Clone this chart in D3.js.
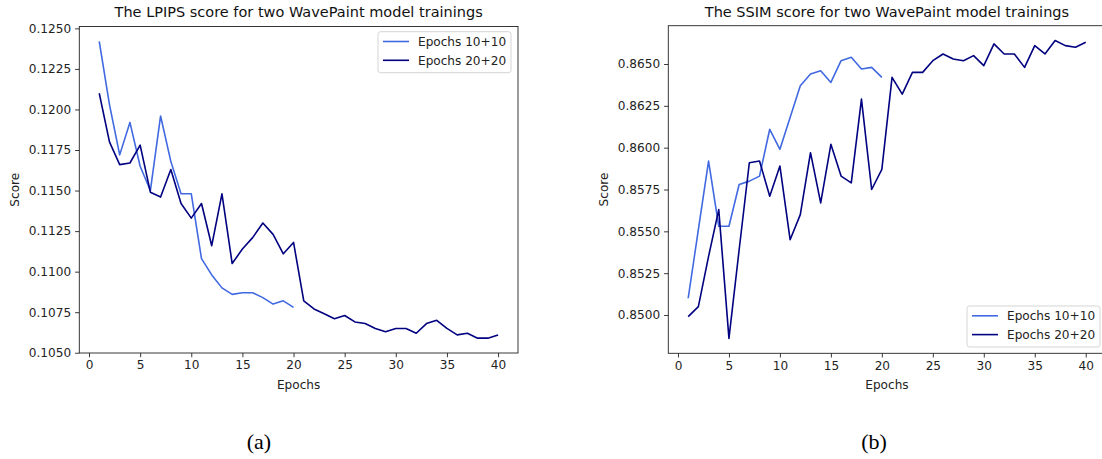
<!DOCTYPE html>
<html>
<head>
<meta charset="utf-8">
<script src="https://cdn.jsdelivr.net/npm/d3@7"></script>
<style>
  html, body { margin: 0; padding: 0; background: #fff; }
  svg { display: block; font-family: "DejaVu Sans", sans-serif; }
</style>
</head>
<body>
<svg id="chart"></svg>
<script>
// data
const epochs10 = d3.range(1, 21);
const epochs20 = d3.range(1, 41);

const lpips10 = [0.1242, 0.1203, 0.1172, 0.1192, 0.1165, 0.1150, 0.1196, 0.1168, 0.1148, 0.1148,
                 0.1108, 0.1098, 0.1090, 0.1086, 0.1087, 0.1087, 0.1084, 0.1080, 0.1082, 0.1078];
const lpips20 = [0.1210, 0.1180, 0.1166, 0.1167, 0.1178, 0.1149, 0.1146, 0.1163, 0.1142, 0.1133,
                 0.1142, 0.1116, 0.1148, 0.1105, 0.1114, 0.1121, 0.1130, 0.1123, 0.1111, 0.1118,
                 0.1082, 0.1077, 0.1074, 0.1071, 0.1073, 0.1069, 0.1068, 0.1065, 0.1063, 0.1065,
                 0.1065, 0.1062, 0.1068, 0.1070, 0.1065, 0.1061, 0.1062, 0.1059, 0.1059, 0.1061];

const ssim10 = [0.8510, 0.8551, 0.8592, 0.8553, 0.8553, 0.8578, 0.8580, 0.8583, 0.8611, 0.8599,
                0.8618, 0.8637, 0.8644, 0.8646, 0.8639, 0.8652, 0.8654, 0.8647, 0.8648, 0.8642];
const ssim20 = [0.8499, 0.8505, 0.8535, 0.8563, 0.8486, 0.8539, 0.8591, 0.8592, 0.8571, 0.8589,
                0.8545, 0.8560, 0.8597, 0.8567, 0.8602, 0.8583, 0.8579, 0.8629, 0.8575, 0.8587,
                0.8642, 0.8632, 0.8645, 0.8645, 0.8652, 0.8656, 0.8653, 0.8652, 0.8655, 0.8649,
                0.8662, 0.8656, 0.8656, 0.8648, 0.8661, 0.8656, 0.8664, 0.8661, 0.8660, 0.8663];

const xTicks = [0, 5, 10, 15, 20, 25, 30, 35, 40];
const lpipsTicks = [0.1050, 0.1075, 0.1100, 0.1125, 0.1150, 0.1175, 0.1200, 0.1225, 0.1250];
const ssimTicks = [0.8500, 0.8525, 0.8550, 0.8575, 0.8600, 0.8625, 0.8650];

const seriesNames = ["Epochs 10+10", "Epochs 20+20"];
const colors = ["#4169e1", "#000080"];

const ctx = {
  width: 1102,
  height: 459,
  fontSize: 12.1,
  titleSize: 14.5,
  panels: [
    { left: 79.3, right: 518, top: 26.5, bottom: 353,
      title: "The LPIPS score for two WavePaint model trainings",
      caption: "(a)", captionX: 259, legendX: 378, legendY: 31.7 },
    { left: 668.3, right: 1105.6, top: 25.7, bottom: 353.3,
      title: "The SSIM score for two WavePaint model trainings",
      caption: "(b)", captionX: 874, legendX: 967, legendY: 306 }
  ]
};

const svg = d3.select("#chart")
  .attr("width", ctx.width)
  .attr("height", ctx.height);

// matplotlib-style 5% padding around the data
function padded(values) {
  const lo = d3.min(values), hi = d3.max(values);
  const m = (hi - lo) * 0.05;
  return [lo - m, hi + m];
}

function drawPanel(p, short, long, yTicks) {
  const g = svg.append("g");

  const x = d3.scaleLinear()
    .domain(padded(epochs20))
    .range([p.left, p.right]);
  const y = d3.scaleLinear()
    .domain(padded(short.concat(long)))
    .range([p.bottom, p.top]);

  // axes
  g.append("g")
    .attr("transform", `translate(0,${p.bottom})`)
    .call(d3.axisBottom(x).tickValues(xTicks).tickSizeInner(4.2).tickSizeOuter(0).tickPadding(3.5))
    .call(a => a.select(".domain").remove());
  g.append("g")
    .attr("transform", `translate(${p.left},0)`)
    .call(d3.axisLeft(y).tickValues(yTicks).tickFormat(d3.format(".4f")).tickSizeInner(4.2).tickSizeOuter(0).tickPadding(4))
    .call(a => a.select(".domain").remove());
  g.selectAll(".tick text").attr("font-size", ctx.fontSize).attr("fill", "#222")
    .attr("font-family", "DejaVu Sans");
  g.selectAll(".tick line").attr("stroke", "#222").attr("stroke-width", 0.9);

  // lines
  const line = d3.line().x((d, i) => x(i + 1)).y(d => y(d));
  [short, long].forEach((vals, i) => {
    g.append("path")
      .datum(vals)
      .attr("fill", "none")
      .attr("stroke", colors[i])
      .attr("stroke-width", 1.6)
      .attr("stroke-linejoin", "round")
      .attr("d", line);
  });

  // frame
  g.append("rect")
    .attr("x", p.left).attr("y", p.top)
    .attr("width", p.right - p.left).attr("height", p.bottom - p.top)
    .attr("fill", "none").attr("stroke", "#222").attr("stroke-width", 0.9);

  // titles
  g.append("text")
    .attr("x", (p.left + p.right) / 2)
    .attr("y", 16.8)
    .attr("text-anchor", "middle")
    .attr("font-size", ctx.titleSize)
    .attr("fill", "#111")
    .text(p.title);
  g.append("text")
    .attr("x", (p.left + p.right) / 2)
    .attr("y", 388.5)
    .attr("text-anchor", "middle")
    .attr("font-size", ctx.fontSize)
    .attr("fill", "#222")
    .text("Epochs");
  g.append("text")
    .attr("transform", `translate(${p.left - 60},${(p.top + p.bottom) / 2}) rotate(-90)`)
    .attr("text-anchor", "middle")
    .attr("font-size", ctx.fontSize)
    .attr("fill", "#222")
    .text("Score");

  // legend
  const lw = 133, lh = 41;
  const leg = g.append("g").attr("transform", `translate(${p.legendX},${p.legendY})`);
  leg.append("rect")
    .attr("width", lw).attr("height", lh).attr("rx", 2.5)
    .attr("fill", "#fff").attr("fill-opacity", 0.8)
    .attr("stroke", "#d0d0d0").attr("stroke-width", 0.9);
  seriesNames.forEach((name, i) => {
    const ry = 9.8 + i * 18.8;
    leg.append("line")
      .attr("x1", 5).attr("x2", 31).attr("y1", ry).attr("y2", ry)
      .attr("stroke", colors[i]).attr("stroke-width", 1.6);
    leg.append("text")
      .attr("x", 40).attr("y", ry + 4.4)
      .attr("font-size", ctx.fontSize)
      .attr("fill", "#222")
      .text(name);
  });

  // caption below panel
  svg.append("text")
    .attr("x", p.captionX)
    .attr("y", 449)
    .attr("text-anchor", "middle")
    .attr("font-family", "Liberation Serif, serif")
    .attr("font-size", 22)
    .attr("fill", "#000")
    .text(p.caption);
}

drawPanel(ctx.panels[0], lpips10, lpips20, lpipsTicks);
drawPanel(ctx.panels[1], ssim10, ssim20, ssimTicks);
</script>
</body>
</html>
